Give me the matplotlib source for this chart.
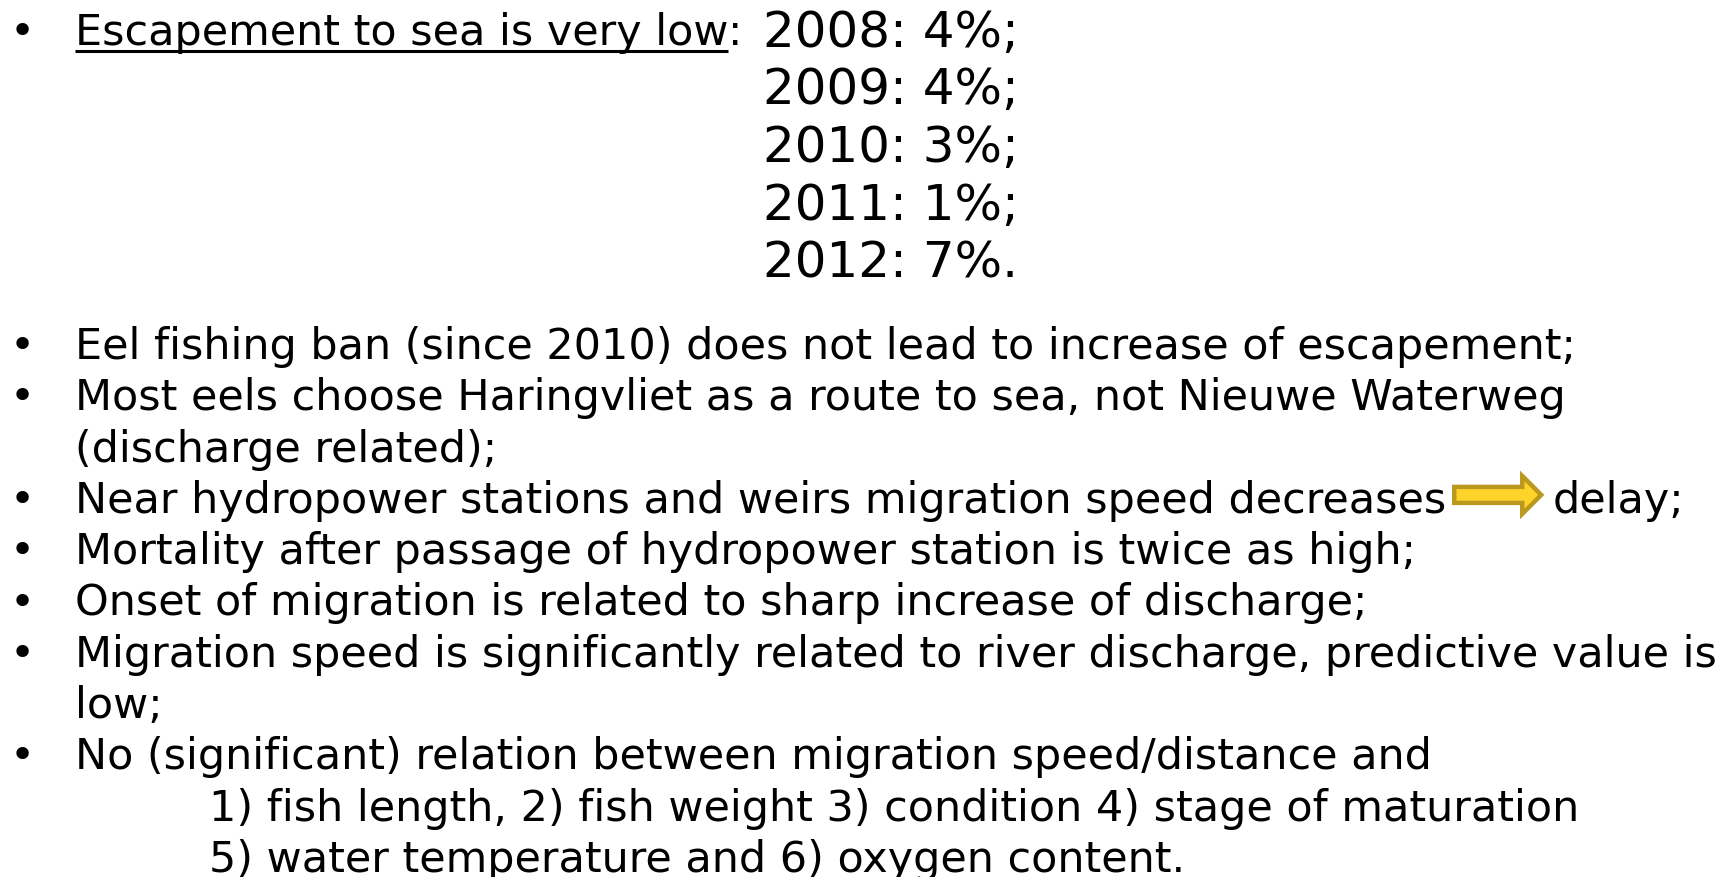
import matplotlib.pyplot as plt
from matplotlib.patches import Polygon

# slide content
years = ['2008', '2009', '2010', '2011', '2012']
escapement = [4, 4, 3, 1, 7]
headline = 'Escapement to sea is very low'

# (kind, text): kind 'b' = bullet, 'c' = continuation, 's' = sub-indented
body_lines = [
    ('b', 'Eel fishing ban (since 2010) does not lead to increase of escapement;'),
    ('b', 'Most eels choose Haringvliet as a route to sea, not Nieuwe Waterweg'),
    ('c', '(discharge related);'),
    ('b', 'Near hydropower stations and weirs migration speed decreases'),
    ('b', 'Mortality after passage of hydropower station is twice as high;'),
    ('b', 'Onset of migration is related to sharp increase of discharge;'),
    ('b', 'Migration speed is significantly related to river discharge, predictive value is'),
    ('c', 'low;'),
    ('b', 'No (significant) relation between migration speed/distance and'),
    ('s', '1) fish length, 2) fish weight 3) condition 4) stage of maturation'),
    ('s', '5) water temperature and 6) oxygen content.'),
]
arrow_after = 'delay;'

W, H = 1724, 877
fig = plt.figure(figsize=(W / 100, H / 100), dpi=100)
ax = fig.add_axes([0, 0, 1, 1])
ax.set_xlim(0, W)
ax.set_ylim(H, 0)
ax.axis('off')
renderer = fig.canvas.get_renderer()


def text_width(s, size):
    t = ax.text(0, 0, s, fontsize=size, family='DejaVu Sans')
    w = t.get_window_extent(renderer).width
    t.remove()
    return w


# fit font sizes to the widths measured on the slide
body_fs = 30 * 1499 / text_width(body_lines[0][1], 30)
year_fs = 36 * 256 / text_width('2008: 4%;', 36)

x_bullet = 22
x_text = 75
x_sub = 209

# top block
y0 = 45
ystep_top = 57.5
t = ax.text(x_text, y0, headline, fontsize=body_fs, va='baseline')
hw = t.get_window_extent(renderer).width
ax.plot([x_text, x_text + hw], [y0 + 6, y0 + 6], color='black', lw=2.2,
        solid_capstyle='butt')
ax.text(x_text + hw, y0, ':', fontsize=body_fs, va='baseline')
ax.text(x_bullet, y0, '•', fontsize=body_fs, va='baseline', ha='center')

for i, (yr, v) in enumerate(zip(years, escapement)):
    end = '.' if i == len(years) - 1 else ';'
    ax.text(891, y0 + 2 + i * ystep_top, f'{yr}: {v}%{end}', fontsize=year_fs,
            va='baseline', ha='center')

# body
yb = 359
ystep = 51.3
for i, (kind, s) in enumerate(body_lines):
    y = yb + i * ystep
    x = x_sub if kind == 's' else x_text
    if kind == 'b':
        ax.text(x_bullet, y, '•', fontsize=body_fs, va='baseline', ha='center')
    t = ax.text(x, y, s, fontsize=body_fs, va='baseline')
    if s.endswith('decreases'):
        xe = x + t.get_window_extent(renderer).width
        a0 = xe + 8
        cy = y - 18
        pts = [(a0, cy - 8), (a0 + 68, cy - 8), (a0 + 68, cy - 19),
               (a0 + 87, cy), (a0 + 68, cy + 19), (a0 + 68, cy + 8), (a0, cy + 8)]
        ax.add_patch(Polygon(pts, closed=True, facecolor='#FFD42A',
                             edgecolor='#BB981E', lw=3.2, joinstyle='miter'))
        ax.text(a0 + 98, y, arrow_after, fontsize=body_fs, va='baseline')

fig.savefig('out.png', dpi=100, facecolor='white')
